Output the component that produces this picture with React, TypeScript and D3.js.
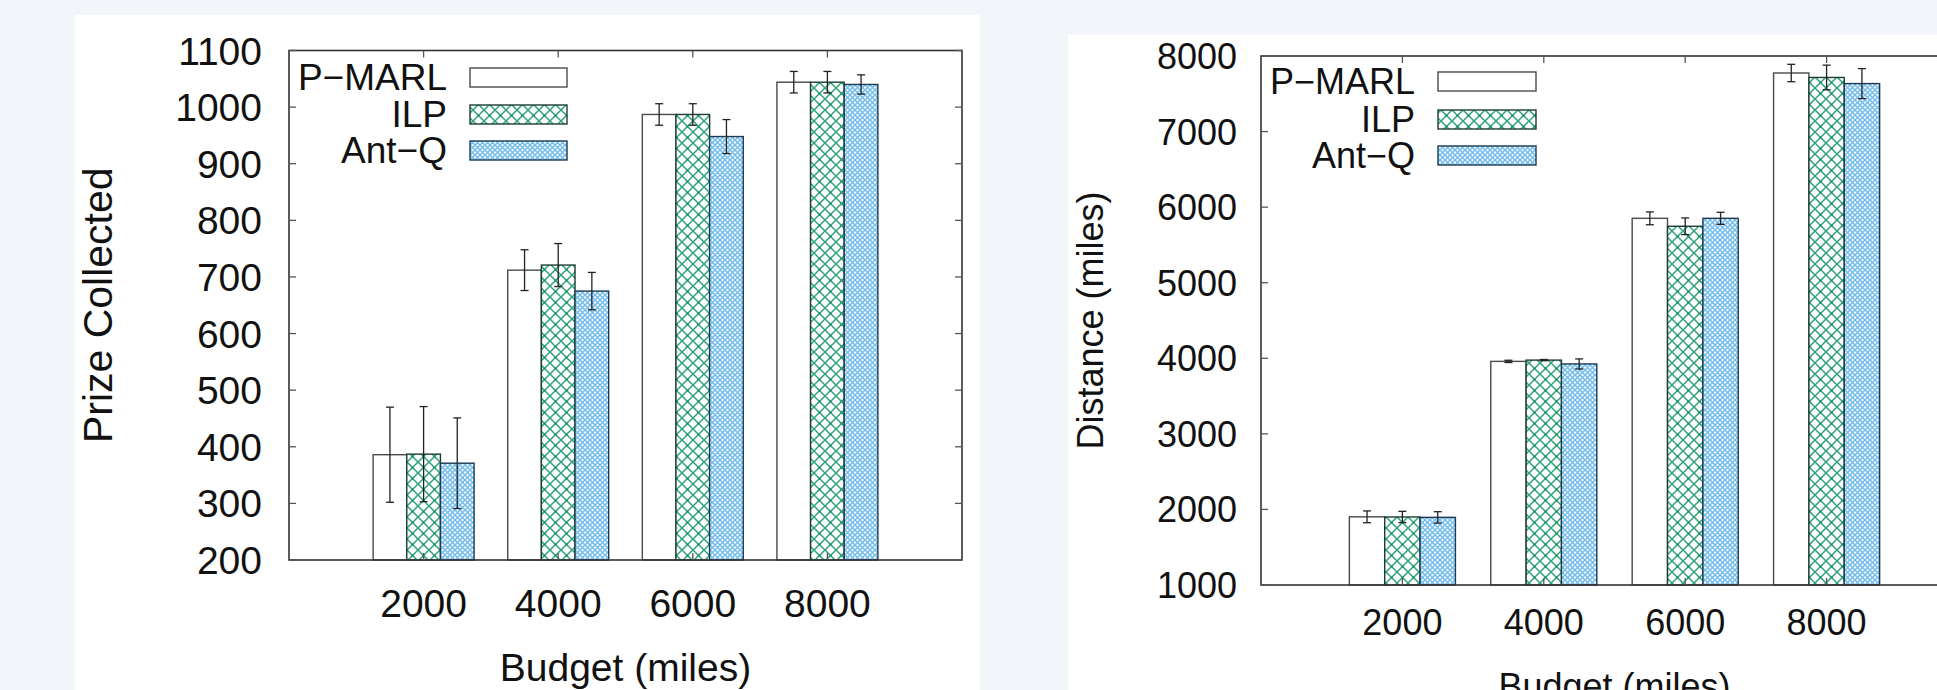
import { useMemo } from 'react';
import * as d3 from 'd3';

// budgets on the x axis, series in draw order
const budgets = ['2000', '4000', '6000', '8000'];
const seriesNames = ['P\u2212MARL', 'ILP', 'Ant\u2212Q'];

// left chart: prize collected (mean, +/- error)
const prizePmarl = [386, 712, 987, 1044];
const prizeIlp = [387, 721, 987, 1044];
const prizeAntq = [371, 675, 948, 1040];
const prizeErrPmarl = [84, 36, 19, 19];
const prizeErrIlp = [84, 38, 19, 19];
const prizeErrAntq = [80, 33, 30, 17];
const prizeTicks = [200, 300, 400, 500, 600, 700, 800, 900, 1000, 1100];

// right chart: distance travelled
const distPmarl = [1902, 3959, 5852, 7775];
const distIlp = [1900, 3976, 5747, 7716];
const distAntq = [1895, 3925, 5852, 7635];
const distErrPmarl = [78, 15, 85, 115];
const distErrIlp = [75, 8, 110, 163];
const distErrAntq = [75, 67, 80, 198];
const distTicks = [1000, 2000, 3000, 4000, 5000, 6000, 7000, 8000];

const FONT = '"Liberation Sans", Arial, Helvetica, sans-serif';
const fills = ['#ffffff', 'url(#ilpHatch)', 'url(#antqHatch)'];
const strokes = ['#4a4a4a', '#1d3d33', '#1c3a52'];

type PanelProps = {
  means: number[][];
  errs: number[][];
  ticks: number[];
  frame: { x0: number; x1: number; y0: number; y1: number };
  fontSize: number;
  yTitle: string;
  yTitleX: number;
  yTitleSize: number;
  tickGap: number;
  xLabelY: number;
  xTitleY: number;
  legend: { textRight: number; boxX: number; boxW: number; boxH: number; baselines: number[]; fontSize: number };
};

const Panel = ({ means, errs, ticks, frame, fontSize, yTitle, yTitleX, yTitleSize, tickGap, xLabelY, xTitleY, legend }: PanelProps) => {
  const xScale = useMemo(() => d3.scaleLinear().domain([-1, budgets.length]).range([frame.x0, frame.x1]), [frame]);
  const yScale = useMemo(
    () => d3.scaleLinear().domain([ticks[0], ticks[ticks.length - 1]]).range([frame.y1, frame.y0]),
    [ticks, frame]
  );
  const barW = 0.25;
  const tickLen = 7;
  const yMid = (frame.y0 + frame.y1) / 2;
  const xMid = (frame.x0 + frame.x1) / 2;

  return (
    <g fontFamily={FONT}>
      {/* bars */}
      {means.map((series, s) =>
        series.map((v, i) => {
          const left = xScale(i + (s - 1) * barW - barW / 2);
          const right = xScale(i + (s - 1) * barW + barW / 2);
          return (
            <rect
              key={`b${s}-${i}`}
              x={left}
              y={yScale(v)}
              width={right - left}
              height={frame.y1 - yScale(v)}
              fill={fills[s]}
              stroke={strokes[s]}
              strokeWidth={1.4}
            />
          );
        })
      )}
      {/* error bars */}
      {means.map((series, s) =>
        series.map((v, i) => {
          const cx = xScale(i + (s - 1) * barW);
          const top = yScale(v + errs[s][i]);
          const bot = yScale(v - errs[s][i]);
          return (
            <g key={`e${s}-${i}`} stroke="#222" strokeWidth={1.3}>
              <line x1={cx} x2={cx} y1={top} y2={bot} />
              <line x1={cx - 4} x2={cx + 4} y1={top} y2={top} />
              <line x1={cx - 4} x2={cx + 4} y1={bot} y2={bot} />
            </g>
          );
        })
      )}
      {/* frame + ticks */}
      <rect
        x={frame.x0}
        y={frame.y0}
        width={frame.x1 - frame.x0}
        height={frame.y1 - frame.y0}
        fill="none"
        stroke="#333"
        strokeWidth={1.6}
      />
      {ticks.map((t) => (
        <g key={`yt${t}`}>
          <line x1={frame.x0} x2={frame.x0 + tickLen} y1={yScale(t)} y2={yScale(t)} stroke="#555" strokeWidth={1.3} />
          <line x1={frame.x1} x2={frame.x1 - tickLen} y1={yScale(t)} y2={yScale(t)} stroke="#555" strokeWidth={1.3} />
          <text
            x={frame.x0 - tickGap}
            y={yScale(t)}
            dy="0.36em"
            textAnchor="end"
            fontSize={fontSize}
            fill="#111"
          >
            {t}
          </text>
        </g>
      ))}
      {budgets.map((b, i) => (
        <g key={`xt${b}`}>
          <line x1={xScale(i)} x2={xScale(i)} y1={frame.y0} y2={frame.y0 + tickLen} stroke="#555" strokeWidth={1.3} />
          <line x1={xScale(i)} x2={xScale(i)} y1={frame.y1} y2={frame.y1 - tickLen} stroke="#555" strokeWidth={1.3} />
          <text x={xScale(i)} y={xLabelY} textAnchor="middle" fontSize={fontSize} fill="#111">
            {b}
          </text>
        </g>
      ))}
      {/* axis titles */}
      <text x={xMid} y={xTitleY} textAnchor="middle" fontSize={fontSize} fill="#111">
        Budget (miles)
      </text>
      <text
        transform={`translate(${yTitleX}, ${yMid}) rotate(-90)`}
        textAnchor="middle"
        fontSize={yTitleSize}
        fill="#111"
      >
        {yTitle}
      </text>
      {/* legend */}
      {seriesNames.map((name, s) => (
        <g key={`lg${s}`}>
          <text x={legend.textRight} y={legend.baselines[s]} textAnchor="end" fontSize={legend.fontSize} fill="#111">
            {name}
          </text>
          <rect
            x={legend.boxX}
            y={legend.baselines[s] - 22}
            width={legend.boxW}
            height={legend.boxH}
            fill={fills[s]}
            stroke={strokes[s]}
            strokeWidth={1.4}
          />
        </g>
      ))}
    </g>
  );
};

const App = () => {
  const leftFrame = useMemo(() => ({ x0: 289, x1: 962, y0: 50.5, y1: 560 }), []);
  const rightFrame = useMemo(() => ({ x0: 1261, x1: 1968, y0: 56, y1: 585 }), []);

  return (
    <svg width={1937} height={690} style={{ position: 'absolute', left: 0, top: 0, display: 'block' }}>
      <defs>
        <pattern id="ilpHatch" width={11} height={11} patternUnits="userSpaceOnUse">
          <rect width={11} height={11} fill="#fff" />
          <path d="M0,0 L11,11 M11,0 L0,11" stroke="#2fa37a" strokeWidth={1.5} />
          <circle cx={5.5} cy={5.5} r={1.3} fill="#2a9a70" />
        </pattern>
        <pattern id="antqHatch" width={5} height={5} patternUnits="userSpaceOnUse">
          <rect width={5} height={5} fill="#fff" />
          <path d="M0,0 L5,5 M5,0 L0,5" stroke="#72bdee" strokeWidth={1.5} />
        </pattern>
        <clipPath id="pageClip">
          <rect x={0} y={0} width={1937} height={690} />
        </clipPath>
      </defs>
      <rect x={0} y={0} width={1937} height={690} fill="#f2f5fa" />
      <rect x={75} y={15} width={905} height={675} fill="#fff" />
      <rect x={1068} y={35} width={869} height={655} fill="#fff" />
      <Panel
        means={[prizePmarl, prizeIlp, prizeAntq]}
        errs={[prizeErrPmarl, prizeErrIlp, prizeErrAntq]}
        ticks={prizeTicks}
        frame={leftFrame}
        fontSize={39}
        yTitle="Prize Collected"
        yTitleX={112}
        yTitleSize={41}
        tickGap={27}
        xLabelY={617}
        xTitleY={681}
        legend={{ textRight: 447, boxX: 470, boxW: 97, boxH: 19, baselines: [90, 127, 163], fontSize: 37 }}
      />
      <g clipPath="url(#pageClip)">
        <Panel
          means={[distPmarl, distIlp, distAntq]}
          errs={[distErrPmarl, distErrIlp, distErrAntq]}
          ticks={distTicks}
          frame={rightFrame}
          fontSize={36}
          yTitle="Distance (miles)"
          yTitleX={1103}
          yTitleSize={36}
          tickGap={24}
          xLabelY={635}
          xTitleY={699}
          legend={{ textRight: 1415, boxX: 1438, boxW: 98, boxH: 19, baselines: [94, 132, 168], fontSize: 36 }}
        />
      </g>
    </svg>
  );
};

export default App;
